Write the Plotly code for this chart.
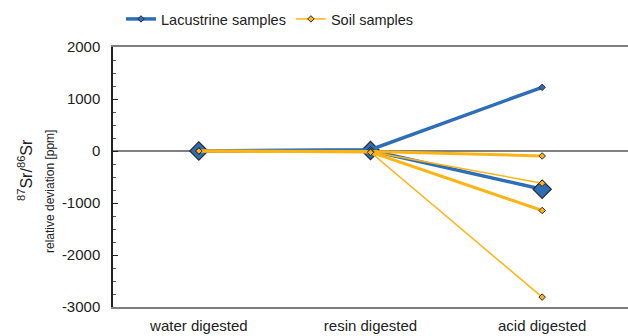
import plotly.graph_objects as go

categories = ["water digested", "resin digested", "acid digested"]

lacustrine_a = [0, 25, 1225]
lacustrine_b = [0, 10, -735]
soil_1 = [0, -10, -95]
soil_2 = [0, -15, -620]
soil_3 = [0, -20, -1145]
soil_4 = [0, -25, -2810]

y_ticks = [2000, 1000, 0, -1000, -2000, -3000]

BLUE = "#2E6DB8"
YELLOW = "#FDB515"
EDGE = "#2b2b2b"
FONT = "Liberation Sans, Arial, sans-serif"

W, H = 628, 336
L, R, T, B = 113, 0, 47, 29
pw, ph = W - L - R, H - T - B

fig = go.Figure()

fig.add_trace(go.Scatter(
    x=categories, y=lacustrine_b, mode="lines+markers", showlegend=False,
    line=dict(color=BLUE, width=3.5),
    marker=dict(symbol="diamond", size=14, color=BLUE, line=dict(color=EDGE, width=1.2)),
))
fig.add_trace(go.Scatter(
    x=categories, y=lacustrine_a, mode="lines+markers", name="Lacustrine samples",
    line=dict(color=BLUE, width=3.5),
    marker=dict(symbol="diamond", size=5, color=BLUE, line=dict(color=EDGE, width=1)),
))
for i, (vals, w) in enumerate([(soil_1, 3), (soil_2, 1.5), (soil_3, 3), (soil_4, 1.5)]):
    fig.add_trace(go.Scatter(
        x=categories, y=vals, mode="lines+markers", name="Soil samples",
        showlegend=(i == 1), legendgroup="soil",
        line=dict(color=YELLOW, width=w),
        marker=dict(symbol="diamond", size=5, color=YELLOW, line=dict(color=EDGE, width=1)),
    ))

fig.update_layout(
    width=W, height=H,
    margin=dict(l=L, r=R, t=T, b=B),
    paper_bgcolor="white", plot_bgcolor="white",
    font=dict(family=FONT, color="#222222"),
    legend=dict(orientation="h", x=(121 - L) / pw, xanchor="left",
                y=1 + (T - 19) / ph, yanchor="middle",
                font=dict(size=14.5, family=FONT), itemwidth=30,
                bgcolor="rgba(0,0,0,0)", traceorder="normal"),
    xaxis=dict(type="category", range=[-0.5, 2.5], showline=True, linecolor="#7f7f7f",
               linewidth=2, mirror=True, ticks="", showgrid=False, zeroline=False,
               tickfont=dict(size=15, family=FONT), ticklabelstandoff=4),
    yaxis=dict(range=[-3000, 2000], tickvals=y_ticks, ticktext=[str(v) for v in y_ticks],
               showline=True, linecolor="#222222", linewidth=1.5, ticks="inside", ticklen=5,
               tickcolor="#222222",
               minor=dict(ticks="inside", dtick=250, ticklen=3, tickcolor="#555555"),
               showgrid=False, zeroline=True, zerolinecolor="#7f7f7f", zerolinewidth=2,
               tickfont=dict(size=15, family=FONT), ticklabelstandoff=8),
    annotations=[
        dict(text="<sup>87</sup>Sr/<sup>86</sup>Sr", xref="paper", yref="paper",
             x=(25 - L) / pw, y=(H - B - 170) / ph, xanchor="center", yanchor="middle",
             textangle=-90, showarrow=False, font=dict(size=16, family=FONT, color="#222222")),
        dict(text="relative deviation [ppm]", xref="paper", yref="paper",
             x=(50 - L) / pw, y=(H - B - 192) / ph, xanchor="center", yanchor="middle",
             textangle=-90, showarrow=False, font=dict(size=12, family=FONT, color="#222222")),
    ],
)

fig.write_html("out.html")
